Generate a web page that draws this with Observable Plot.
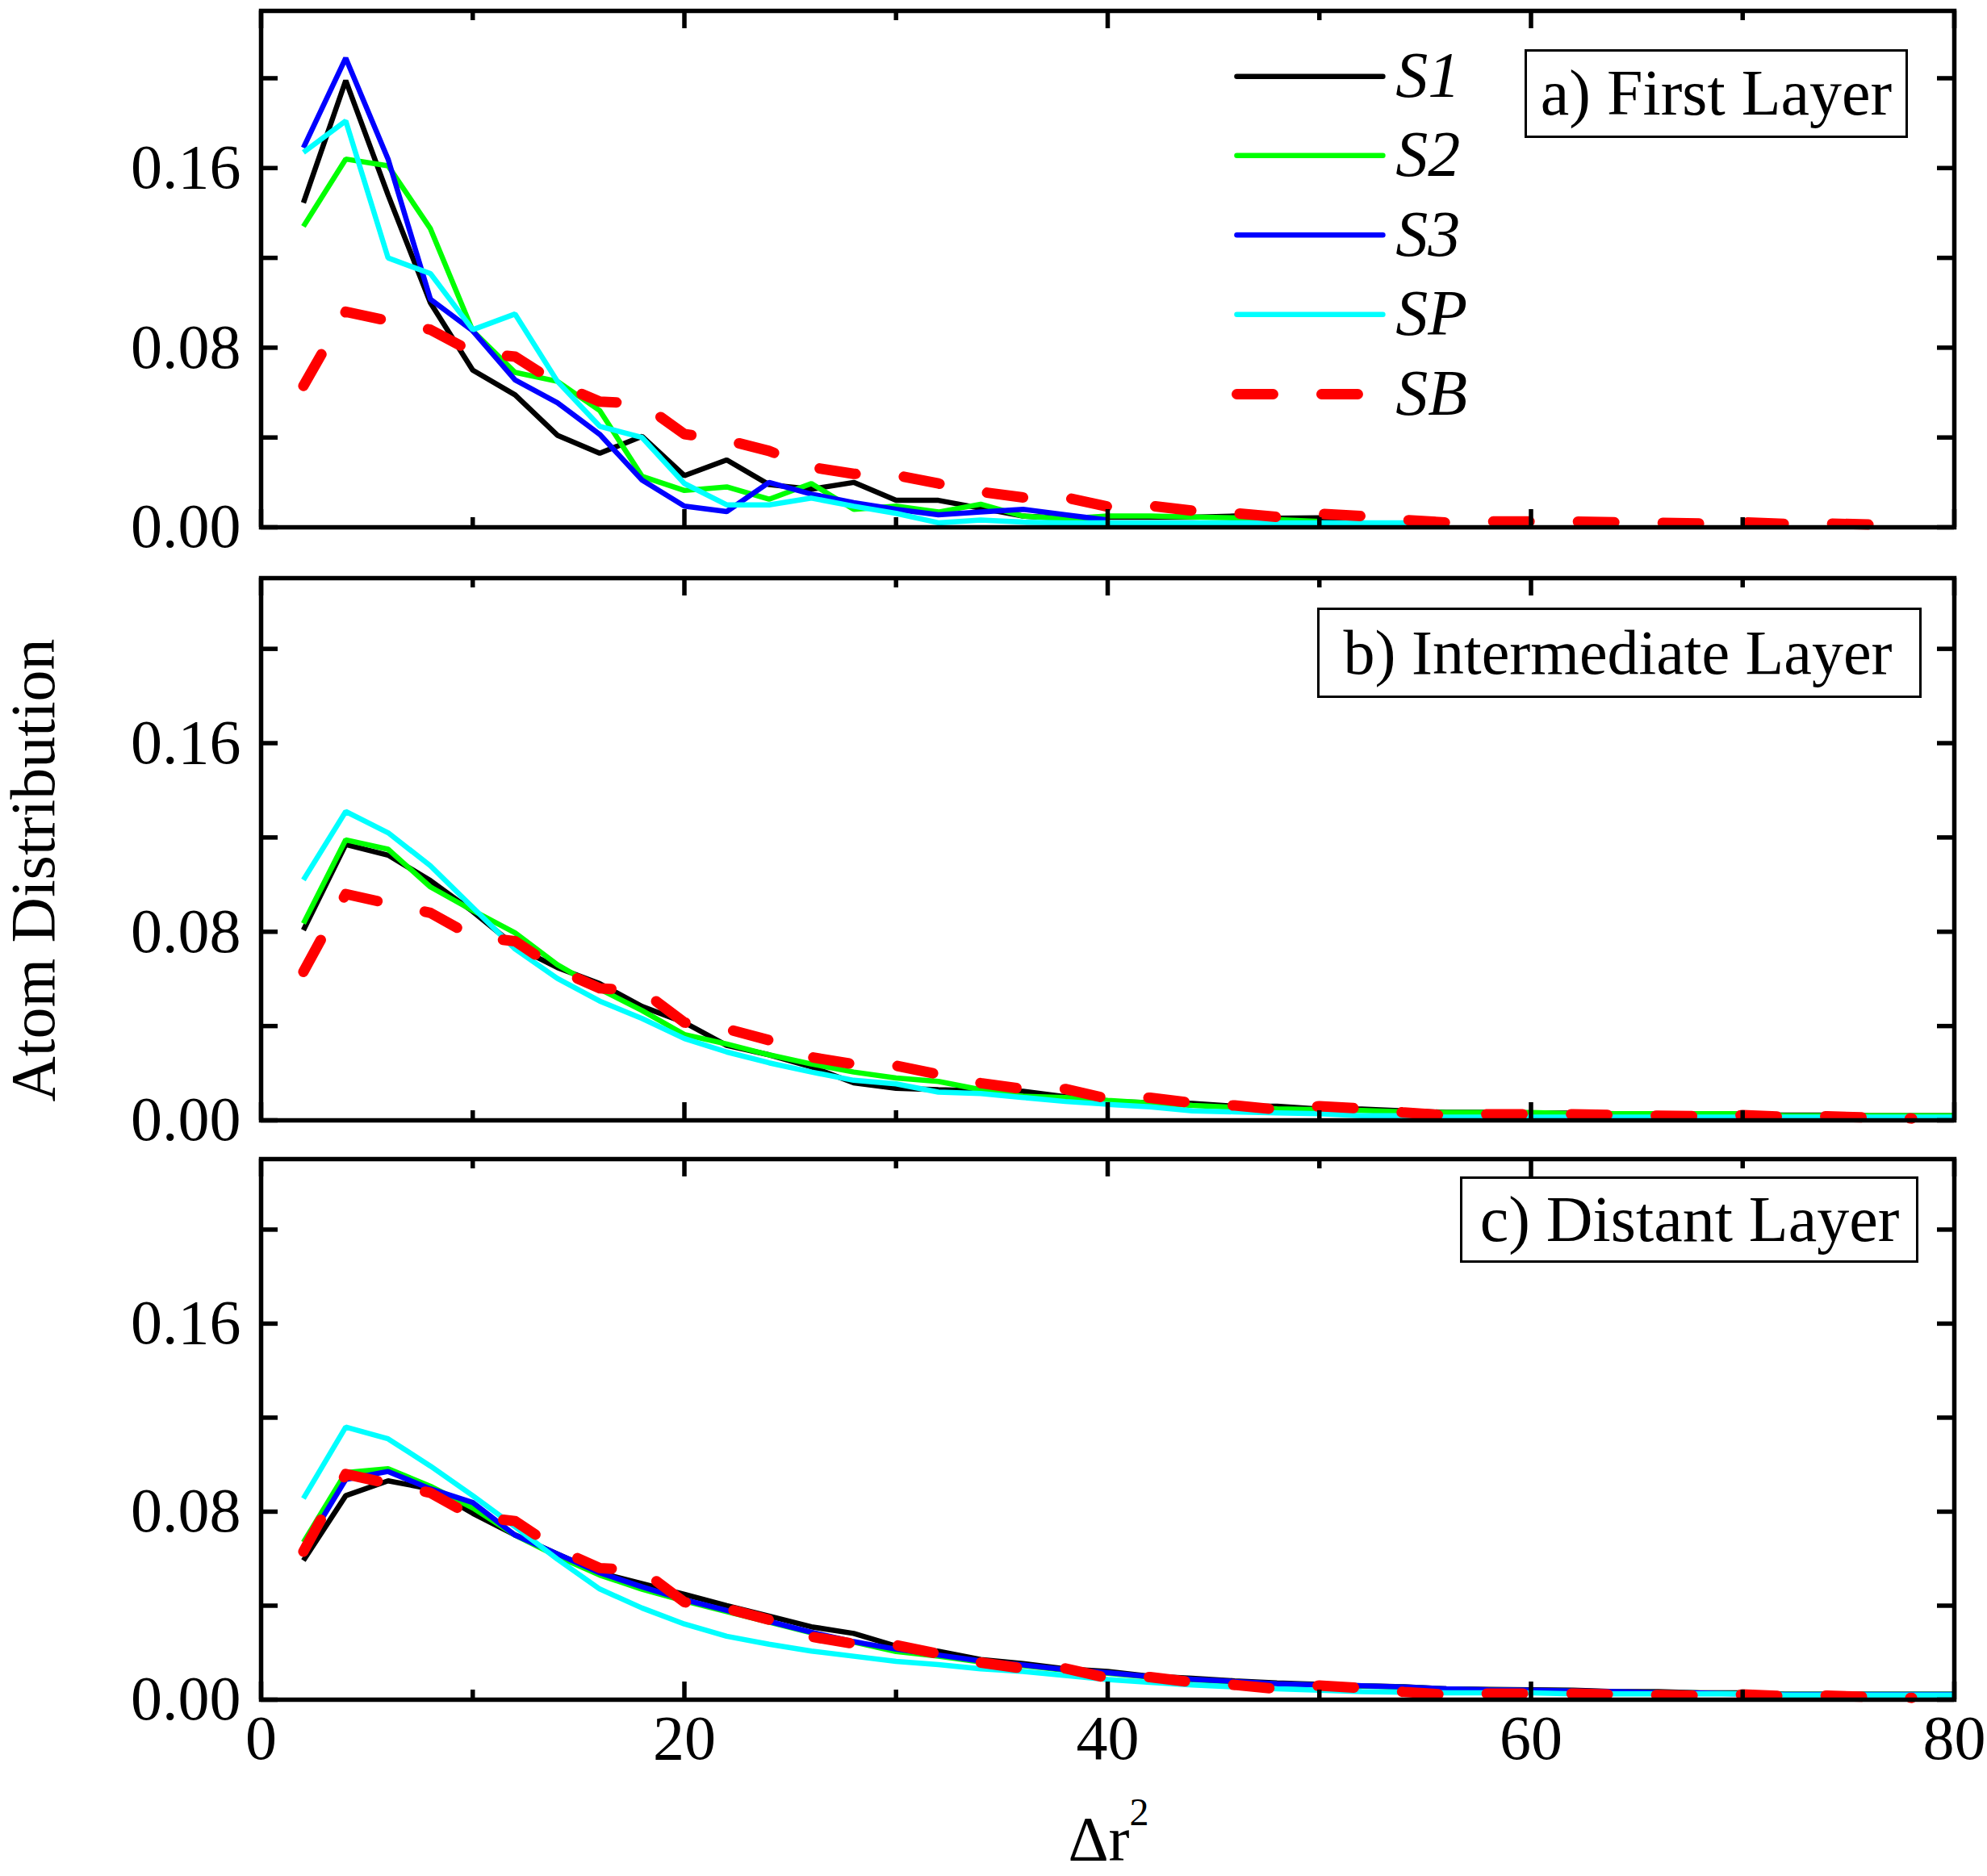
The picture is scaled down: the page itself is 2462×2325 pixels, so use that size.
<!DOCTYPE html>
<html><head><meta charset="utf-8">
<script src="https://cdn.jsdelivr.net/npm/d3@7"></script>
<script src="https://cdn.jsdelivr.net/npm/@observablehq/plot@0.6"></script>
<style>
body{margin:0;background:#fff;}
#chart{width:2462px;background:#fff;}
#chart svg{display:block;}
</style></head><body><div id="chart"></div>
<script>
// ---- data ----
const xGrid = [2,4,6,8,10,12,14,16,18,20,22,24,26,28,30,32,34,36,38,40,42,44,46,48,50,52,54,56,58,60,62,64,66,68,70,72,74,76,78,80];

const seriesNames = ["S1","S2","S3","SP","SB"];
const seriesColors = ["#000000","#00ff00","#0000ff","#00ffff","#ff0000"];
const panelLabels = ["a) First Layer","b) Intermediate Layer","c) Distant Layer"];
const yTicksMajor = [0,0.08,0.16];
const yTicksMinor = [0.04,0.12,0.20];
const xTicksMajor = [0,20,40,60,80];
const xTicksMinor = [10,30,50,70];
const yAxisTitle = "Atom Distribution";
const xAxisTitle = "Δr";
const xAxisSup = "2";

// SB (bulk) is the same in every panel
const SB = [0.063,0.096,0.092,0.088,0.078,0.076,0.064,0.056,0.055,0.0415,0.0388,0.034,0.0268,0.0238,0.0232,0.0195,0.0158,0.0133,0.0133,0.0092,0.0096,0.0074,0.0063,0.0046,0.0060,0.0050,0.0033,0.0021,0.0026,0.0026,0.0026,0.0022,0.0020,0.0017,0.0022,0.0015,0.0017,0.0012,0.0008];

// a) First layer
const a_S1 = [0.1445,0.199,0.148,0.100,0.070,0.059,0.041,0.033,0.0405,0.023,0.030,0.019,0.017,0.020,0.012,0.012,0.0085,0.005,0.004,0.0045,0.0045,0.0045,0.005,0.004,0.0042,0.003];
const a_S2 = [0.134,0.164,0.161,0.133,0.0875,0.069,0.065,0.052,0.0227,0.0164,0.018,0.0125,0.0195,0.008,0.0094,0.0068,0.0103,0.005,0.0038,0.005,0.005,0.0046,0.0042,0.0034,0.0026];
const a_S3 = [0.169,0.209,0.164,0.1016,0.0875,0.0656,0.0555,0.0414,0.021,0.0094,0.007,0.020,0.0148,0.011,0.008,0.0056,0.0068,0.008,0.0056,0.0032];
const a_SP = [0.167,0.181,0.120,0.113,0.088,0.095,0.065,0.045,0.040,0.0195,0.010,0.010,0.013,0.0094,0.0062,0.002,0.0032,0.0023,0.002,0.002,0.002,0.002,0.002,0.002,0.002,0.002,0.002,0.002];

// b) Intermediate layer
const b_S1 = [0.0807,0.117,0.1125,0.1017,0.0886,0.0739,0.0648,0.058,0.0483,0.0415,0.0318,0.0278,0.0227,0.0159,0.0136,0.013,0.0125,0.0123,0.010,0.008,0.0075,0.0072,0.006,0.006,0.0048,0.0048,0.004,0.0034,0.0034,0.0031,0.0031,0.0028,0.0028,0.0025,0.0025,0.0022,0.0022,0.002,0.002,0.002];
const b_S2 = [0.0835,0.119,0.115,0.099,0.089,0.0795,0.066,0.0557,0.0466,0.0364,0.0324,0.0278,0.0239,0.0205,0.018,0.0165,0.013,0.0102,0.0097,0.0085,0.0074,0.0063,0.0055,0.0049,0.0045,0.0042,0.0036,0.0033,0.0033,0.0033,0.0028,0.0028,0.0028,0.0028,0.0028,0.002,0.002,0.002,0.002,0.002];
const b_SP = [0.102,0.131,0.122,0.108,0.0903,0.0727,0.0602,0.0506,0.0432,0.0347,0.029,0.0244,0.0205,0.017,0.0155,0.012,0.0114,0.0097,0.008,0.0068,0.0057,0.004,0.0036,0.0032,0.0028,0.002,0.002,0.0014,0.0014,0.0014,0.0014,0.0014,0.0014,0.0014,0.0014,0.0014,0.0014,0.0014,0.0014,0.0014];

// c) Distant layer
const c_S1 = [0.0592,0.0868,0.0931,0.0897,0.0793,0.0701,0.062,0.054,0.0494,0.0448,0.040,0.0356,0.031,0.0282,0.0228,0.0206,0.0171,0.0154,0.0131,0.012,0.010,0.0091,0.008,0.0071,0.0065,0.0059,0.0055,0.0046,0.0044,0.0042,0.004,0.0034,0.0034,0.0029,0.0029,0.0023,0.0023,0.0023,0.0023,0.0023];
const c_S2 = [0.067,0.0966,0.0983,0.0908,0.0816,0.070,0.061,0.053,0.047,0.042,0.0375,0.033,0.0285,0.0245,0.0205,0.0185,0.016,0.0145,0.0125,0.0112,0.0096,0.0085,0.0075,0.0067,0.0062,0.0058,0.0053,0.0045,0.0041,0.0039,0.0036,0.0033,0.003,0.0028,0.0026,0.0023,0.0023,0.0023,0.0023,0.0023];
const c_S3 = [0.064,0.0937,0.0971,0.0897,0.0839,0.070,0.062,0.054,0.048,0.0425,0.038,0.0333,0.0287,0.0247,0.0215,0.019,0.0165,0.0148,0.0128,0.0115,0.0098,0.0087,0.0077,0.0068,0.0063,0.0059,0.0054,0.0046,0.0042,0.004,0.0037,0.0034,0.003,0.0028,0.0025,0.0022,0.0022,0.0022,0.0022,0.0022];
const c_SP = [0.0856,0.116,0.111,0.0994,0.0868,0.0736,0.0598,0.0471,0.039,0.0322,0.027,0.0236,0.0207,0.0185,0.0163,0.0149,0.0131,0.012,0.0103,0.0086,0.0074,0.0063,0.0054,0.0046,0.004,0.0034,0.0032,0.0029,0.0029,0.0029,0.0025,0.0025,0.0025,0.0025,0.0025,0.002,0.002,0.002,0.002,0.002];

// legend (panel a), in data units
const legendX = [46.1, 53.0, 53.6];
const legendY = [0.2008, 0.1656, 0.1302, 0.0948, 0.0593];

// ---- helpers ----
const FONT = "'Liberation Serif', 'Times New Roman', serif";
const W = 2462, ML = 323, MR = 41;
const FW = W - ML - MR;
const rows = (vals) => vals.map((v, i) => ({x: xGrid[i], y: v}));

function seriesMarks(list) {
  const marks = [];
  for (const [name, vals] of list) {
    const k = seriesNames.indexOf(name);
    if (name === "SB") {
      marks.push(Plot.line(rows(vals), {x: "x", y: "y", stroke: seriesColors[k], strokeWidth: 13,
        strokeDasharray: "45,60", strokeLinecap: "round", strokeLinejoin: "round"}));
    } else {
      marks.push(Plot.line(rows(vals), {x: "x", y: "y", stroke: seriesColors[k], strokeWidth: 6.5,
        strokeLinejoin: "miter", strokeLinecap: "butt"}));
    }
  }
  return marks;
}

function tickMarks(FH) {
  const sw = 5.5;
  return [
    Plot.tickY(yTicksMajor.concat(yTicksMinor), {y: d => d, insetRight: FW - 21, strokeWidth: sw}),
    Plot.tickY(yTicksMajor.concat(yTicksMinor), {y: d => d, insetLeft: FW - 21, strokeWidth: sw}),
    Plot.tickX(xTicksMajor, {x: d => d, insetTop: FH - 22, strokeWidth: sw}),
    Plot.tickX(xTicksMajor, {x: d => d, insetBottom: FH - 22, strokeWidth: sw}),
    Plot.tickX(xTicksMinor, {x: d => d, insetTop: FH - 12, strokeWidth: sw}),
    Plot.tickX(xTicksMinor, {x: d => d, insetBottom: FH - 12, strokeWidth: sw})
  ];
}

function panel({height, mt, mb, series, label, box, labelDx, labelDy, labelSize = 80, extra = []}) {
  const FH = height - mt - mb;
  return Plot.plot({
    width: W, height,
    marginLeft: ML, marginRight: MR, marginTop: mt, marginBottom: mb,
    style: {fontFamily: FONT, fontSize: "78px", background: "white", color: "black", overflow: "visible"},
    x: {domain: [0, 80], axis: null},
    y: {domain: [0, 0.23], axis: null},
    marks: [
      ...seriesMarks(series),
      ...tickMarks(FH),
      Plot.frame({stroke: "black", strokeWidth: 5.5}),
      Plot.axisY({ticks: yTicksMajor, tickFormat: d3.format(".2f"), tickSize: 0, tickPadding: 25, fontSize: 78, label: null}),
      Plot.frame({stroke: "black", strokeWidth: 3, ...box}),
      Plot.text([label], {text: d => d, frameAnchor: "top-right", dx: labelDx, dy: labelDy,
        fontSize: labelSize, textAnchor: "middle", lineAnchor: "middle", fill: "black"}),
      ...extra
    ]
  });
}

// legend marks for panel a
const legendRows = seriesNames.map((n, i) => ({name: n, y: legendY[i], color: seriesColors[i]}));
const legendMarks = [];
legendRows.forEach((r) => {
  const seg = [{x1: legendX[0], x2: legendX[1], y: r.y}];
  if (r.name === "SB") {
    legendMarks.push(Plot.link(seg, {x1: "x1", x2: "x2", y1: "y", y2: "y", stroke: r.color, strokeWidth: 13,
      strokeDasharray: "45,60", strokeLinecap: "round"}));
  } else {
    legendMarks.push(Plot.link(seg, {x1: "x1", x2: "x2", y1: "y", y2: "y", stroke: r.color, strokeWidth: 6.5, strokeLinecap: "round"}));
  }
});
legendMarks.push(Plot.text(legendRows, {x: () => legendX[2], y: "y", text: "name", fontStyle: "italic",
  fontSize: 80, textAnchor: "start", lineAnchor: "middle", fill: "black"}));

const pa = panel({
  height: 690, mt: 13, mb: 37,
  series: [["S1", a_S1], ["S2", a_S2], ["S3", a_S3], ["SP", a_SP], ["SB", SB]],
  label: panelLabels[0],
  box: {insetLeft: 1567, insetRight: 59, insetTop: 49, insetBottom: 484},
  labelDx: -295, labelDy: 103,
  extra: legendMarks
});

const pb = panel({
  height: 720, mt: 26, mb: 22,
  series: [["S1", b_S1], ["S2", b_S2], ["SP", b_SP], ["SB", SB]],
  label: panelLabels[1],
  box: {insetLeft: 1310, insetRight: 42, insetTop: 38, insetBottom: 525},
  labelDx: -417, labelDy: 94, labelSize: 78,
  extra: [
    Plot.text([yAxisTitle], {text: d => d, frameAnchor: "left", dx: -281, dy: 26, rotate: -90,
      fontSize: 78, textAnchor: "middle", lineAnchor: "middle", fill: "black"})
  ]
});

const pc = panel({
  height: 915, mt: 26, mb: 219,
  series: [["S1", c_S1], ["S2", c_S2], ["S3", c_S3], ["SP", c_SP], ["SB", SB]],
  label: panelLabels[2],
  box: {insetLeft: 1487, insetRight: 46, insetTop: 23, insetBottom: 543},
  labelDx: -328, labelDy: 76,
  extra: [
    Plot.axisX({ticks: xTicksMajor, tickSize: 0, tickPadding: 18, fontSize: 78, label: null, tickFormat: d => String(d)}),
    Plot.text([xAxisTitle], {text: d => d, frameAnchor: "bottom", dx: -11, dy: 174, fontSize: 78,
      textAnchor: "middle", lineAnchor: "middle", fill: "black"}),
    Plot.text([xAxisSup], {text: d => d, frameAnchor: "bottom", dx: 27, dy: 140, fontSize: 48,
      textAnchor: "start", lineAnchor: "middle", fill: "black"})
  ]
});

const chart = document.getElementById("chart");
chart.append(pa, pb, pc);
</script>
</body></html>
